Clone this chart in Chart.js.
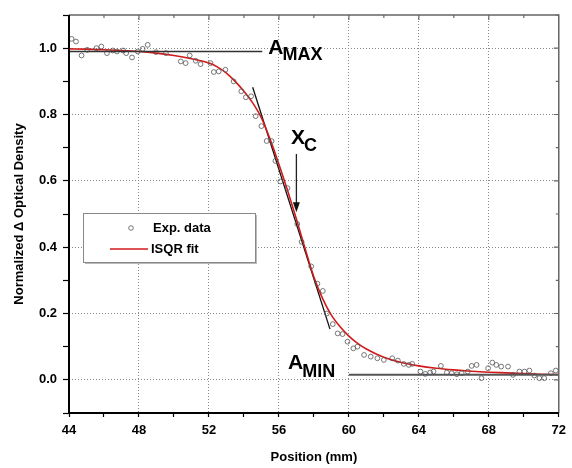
<!DOCTYPE html>
<html>
<head>
<meta charset="utf-8">
<style>
  html, body { margin: 0; padding: 0; background: #fff; }
</style>
<script src="https://cdn.jsdelivr.net/npm/chart.js@4.4.0/dist/chart.umd.min.js"></script>
</head>
<body>
<canvas id="grafico" width="572" height="468"></canvas>
<script>
// ---------- data ----------
const expX = [44.15, 44.4, 44.72, 45.04, 45.57, 45.85, 46.17, 46.5, 46.74, 47.1, 47.27, 47.6, 47.93, 48.21, 48.5, 48.97,
  49.54, 50.39, 50.67, 50.9, 51.24, 51.52, 52.09, 52.28, 52.56, 52.94, 53.41, 53.85, 54.11, 54.41, 54.67, 55.0,
  55.3, 55.58, 55.8, 56.08, 56.49, 57.05, 57.3, 57.85, 58.2, 58.51, 58.74, 59.08, 59.36, 59.64, 59.92, 60.26,
  60.49, 60.87, 61.25, 61.63, 62.0, 62.48, 62.8, 63.14, 63.43, 63.62, 64.09, 64.37, 64.65, 64.84, 65.26, 65.6,
  65.88, 66.17, 66.45, 66.8, 67.02, 67.3, 67.58, 67.96, 68.2, 68.43, 68.71, 69.1, 69.38, 69.75, 70.04, 70.32,
  70.6, 70.89, 71.17, 71.55, 71.83];
const expY = [1.028, 1.02, 0.978, 0.995, 1.0, 1.005, 0.985, 0.993, 0.99, 0.993, 0.985, 0.972, 0.99, 0.998, 1.01, 0.988,
  0.985, 0.96, 0.955, 0.978, 0.962, 0.952, 0.955, 0.928, 0.93, 0.935, 0.9, 0.87, 0.852, 0.855, 0.795, 0.765,
  0.72, 0.72, 0.66, 0.598, 0.578, 0.47, 0.416, 0.342, 0.29, 0.268, 0.2, 0.168, 0.14, 0.138, 0.115, 0.095,
  0.1, 0.075, 0.07, 0.065, 0.06, 0.065, 0.058, 0.048, 0.045, 0.048, 0.025, 0.018, 0.022, 0.025, 0.042, 0.022,
  0.02, 0.017, 0.02, 0.025, 0.042, 0.045, 0.005, 0.035, 0.052, 0.045, 0.04, 0.04, 0.015, 0.025, 0.025, 0.028,
  0.013, 0.005, 0.005, 0.02, 0.028];

// ISQR fit curve
const fitX = [44, 45, 46, 47, 48, 49, 50, 51, 52, 52.5, 53, 53.5, 54, 54.5, 55, 55.5, 56, 56.5, 57, 57.5, 58, 58.5,
  59, 59.5, 60, 60.5, 61, 62, 63, 64, 65, 66, 67, 68, 69, 70, 71, 72];
const fitY = [0.998, 0.997, 0.995, 0.993, 0.99, 0.985, 0.978, 0.968, 0.955, 0.943, 0.925, 0.9, 0.87, 0.835, 0.79, 0.725,
  0.65, 0.57, 0.485, 0.395, 0.31, 0.245, 0.195, 0.16, 0.132, 0.11, 0.093, 0.068, 0.052, 0.042, 0.035, 0.03,
  0.026, 0.023, 0.021, 0.019, 0.017, 0.016];

// guide lines
const tangentX = [54.5, 58.92];
const tangentY = [0.882, 0.153];
const amaxX = [44, 55.05];
const amaxY = [0.99, 0.99];
const aminX = [60, 72];
const aminY = [0.015, 0.015];

// tick labels
const xTickLabels = ["44", "48", "52", "56", "60", "64", "68", "72"];
const yTickLabels = ["0.0", "0.2", "0.4", "0.6", "0.8", "1.0"];

const FONT = "'Liberation Sans', Arial, sans-serif";
Chart.defaults.font.family = FONT;
Chart.defaults.color = "#000";

const pts = (xs, ys) => xs.map((x, i) => ({ x, y: ys[i] }));

// annotations (data units)
const rotulos = [
  { main: "A", sub: "MAX", x: 55.39, y: 0.981, dy: 6 },
  { main: "A", sub: "MIN", x: 56.52, y: 0.033, dy: 8 },
  { main: "X", sub: "C", x: 56.69, y: 0.711, dy: 7 }
];
const seta = { x: 57.0, y1: 0.681, y2: 0.505 };

// ===========================
// frame, mirrored ticks, labels, legend
// ===========================
const extras = {
  id: "extras",
  afterDatasetsDraw(chart) {
    const { ctx, chartArea: a, scales: { x, y } } = chart;
    ctx.save();

    // top / right frame with inward ticks
    ctx.strokeStyle = "#666";
    ctx.lineWidth = 1.5;
    ctx.beginPath();
    ctx.moveTo(a.left, a.top); ctx.lineTo(a.right, a.top); ctx.lineTo(a.right, a.bottom);
    ctx.stroke();
    ctx.lineWidth = 1.2;
    ctx.beginPath();
    for (let v = 46; v < 72; v += 2) {
      const px = x.getPixelForValue(v);
      ctx.moveTo(px, a.top); ctx.lineTo(px, a.top + (v % 4 === 0 ? 5 : 3));
    }
    for (let k = 0; k <= 11; k++) {
      const py = y.getPixelForValue(k / 10);
      ctx.moveTo(a.right, py); ctx.lineTo(a.right - (k % 2 === 0 ? 5 : 3), py);
    }
    ctx.stroke();

    // left / bottom axes
    ctx.strokeStyle = "#000";
    ctx.lineWidth = 2;
    ctx.beginPath();
    ctx.moveTo(a.left, a.top); ctx.lineTo(a.left, a.bottom); ctx.lineTo(a.right, a.bottom);
    ctx.stroke();

    // A_MAX, A_MIN, X_C
    ctx.fillStyle = "#000";
    ctx.textAlign = "left";
    ctx.textBaseline = "alphabetic";
    rotulos.forEach(r => {
      const px = x.getPixelForValue(r.x);
      const py = y.getPixelForValue(r.y);
      ctx.font = "bold 21px " + FONT;
      ctx.fillText(r.main, px, py);
      const w = ctx.measureText(r.main).width;
      ctx.font = "bold 18px " + FONT;
      ctx.fillText(r.sub, px + w - 1, py + r.dy);
    });

    // arrow to x_c
    const ax = x.getPixelForValue(seta.x);
    const ay1 = y.getPixelForValue(seta.y1);
    const ay2 = y.getPixelForValue(seta.y2);
    ctx.strokeStyle = "#222";
    ctx.lineWidth = 1.3;
    ctx.beginPath();
    ctx.moveTo(ax, ay1); ctx.lineTo(ax, ay2 - 8);
    ctx.stroke();
    ctx.fillStyle = "#111";
    ctx.beginPath();
    ctx.moveTo(ax, ay2); ctx.lineTo(ax - 3.5, ay2 - 10); ctx.lineTo(ax + 3.5, ay2 - 10);
    ctx.closePath();
    ctx.fill();

    // legend
    const lx = 83, ly = 213, lw = 172, lh = 49;
    ctx.fillStyle = "#bbb";
    ctx.fillRect(lx + 2, ly + 2, lw, lh);
    ctx.fillStyle = "#fff";
    ctx.fillRect(lx, ly, lw, lh);
    ctx.strokeStyle = "#888";
    ctx.lineWidth = 1;
    ctx.strokeRect(lx + 0.5, ly + 0.5, lw, lh);

    ctx.strokeStyle = "#555";
    ctx.lineWidth = 0.8;
    ctx.beginPath();
    ctx.arc(131, 228, 2.3, 0, Math.PI * 2);
    ctx.stroke();
    ctx.strokeStyle = "#d21a1a";
    ctx.lineWidth = 1.6;
    ctx.beginPath();
    ctx.moveTo(110, 249); ctx.lineTo(148, 249);
    ctx.stroke();

    ctx.fillStyle = "#000";
    ctx.font = "bold 13px " + FONT;
    ctx.textBaseline = "middle";
    ctx.fillText("Exp. data", 153, 228);
    ctx.fillText("ISQR fit", 151, 249);

    ctx.restore();
  }
};

new Chart(document.getElementById("grafico"), {
  type: "scatter",
  data: {
    datasets: [
      {
        label: "A max",
        data: pts(amaxX, amaxY),
        showLine: true,
        borderColor: "#333",
        borderWidth: 1.5,
        pointRadius: 0
      },
      {
        label: "A min",
        data: pts(aminX, aminY),
        showLine: true,
        borderColor: "#555",
        borderWidth: 2,
        pointRadius: 0
      },
      {
        label: "Exp. data",
        data: pts(expX, expY),
        pointStyle: "circle",
        pointRadius: 2.4,
        borderColor: "#555",
        backgroundColor: "rgba(0,0,0,0)",
        borderWidth: 0.8
      },
      {
        label: "ISQR fit",
        data: pts(fitX, fitY),
        showLine: true,
        borderColor: "#d21a1a",
        borderWidth: 1.6,
        pointRadius: 0,
        cubicInterpolationMode: "monotone"
      },
      {
        label: "tangente",
        data: pts(tangentX, tangentY),
        showLine: true,
        borderColor: "#111",
        borderWidth: 1.3,
        pointRadius: 0
      }
    ]
  },
  options: {
    responsive: false,
    animation: false,
    layout: { padding: { top: 15, right: 9, left: 0, bottom: 0 } },
    plugins: {
      legend: { display: false },
      tooltip: { enabled: false }
    },
    scales: {
      x: {
        type: "linear",
        min: 44,
        max: 72,
        afterFit: (s) => { s.height = 55; },
        ticks: {
          stepSize: 2,
          autoSkip: false,
          maxRotation: 0,
          padding: 6,
          font: { size: 13, weight: "bold" },
          callback: (v) => (v % 4 === 0 ? xTickLabels[(v - 44) / 4] : "")
        },
        grid: {
          color: (c) => (c.tick && c.tick.value % 4 === 0 && c.tick.value > 44 && c.tick.value < 72) ? "#888" : "rgba(0,0,0,0)",
          tickColor: "#000",
          tickLength: 4,
          tickWidth: 1.2,
          lineWidth: 1
        },
        border: { display: false, dash: [1, 2] },
        title: {
          display: true,
          text: "Position (mm)",
          font: { size: 13, weight: "bold" },
          padding: { top: 0, bottom: 3 }
        }
      },
      y: {
        type: "linear",
        min: -0.1,
        max: 1.1,
        afterFit: (s) => { s.width = 69; },
        ticks: {
          stepSize: 0.1,
          autoSkip: false,
          padding: 6,
          font: { size: 13, weight: "bold" },
          callback: (v) => {
            const k = Math.round(v * 10);
            return (k >= 0 && k <= 10 && k % 2 === 0) ? yTickLabels[k / 2] : "";
          }
        },
        grid: {
          color: (c) => {
            if (!c.tick) return "rgba(0,0,0,0)";
            const k = Math.round(c.tick.value * 10);
            return (k >= 0 && k <= 10 && k % 2 === 0) ? "#888" : "rgba(0,0,0,0)";
          },
          tickColor: "#000",
          tickLength: 6,
          tickWidth: 1.2,
          lineWidth: 1
        },
        border: { display: false, dash: [1, 2] },
        title: {
          display: true,
          text: "Normalized \u0394 Optical Density",
          font: { size: 13, weight: "bold" },
          padding: { top: 12, bottom: 0 }
        }
      }
    }
  },
  plugins: [extras]
});
</script>
</body>
</html>
